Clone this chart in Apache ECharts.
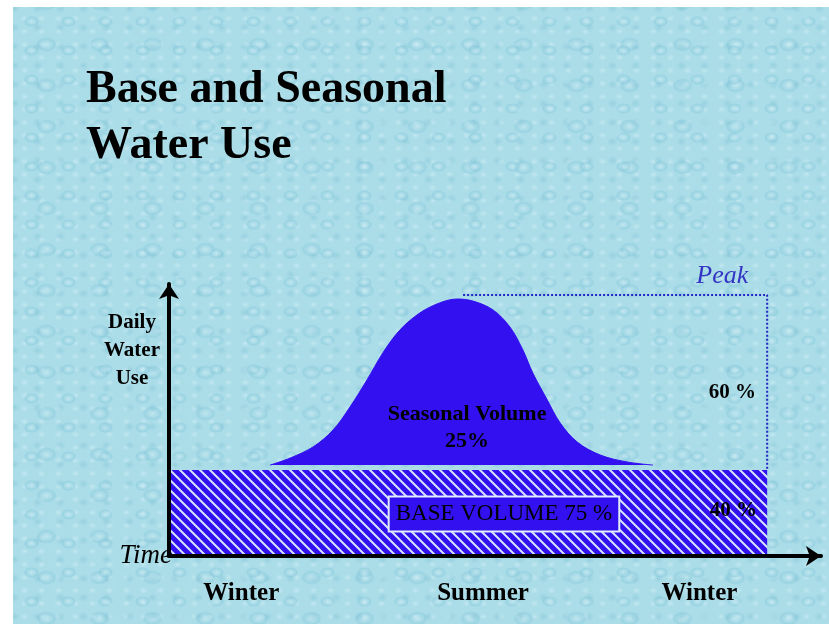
<!DOCTYPE html>
<html>
<head>
<meta charset="utf-8">
<script src="https://cdn.jsdelivr.net/npm/echarts@6/dist/echarts.min.js"></script>
<style>
  html, body { margin: 0; padding: 0; background: #fff; }
  #wrap { position: relative; width: 829px; height: 624px; overflow: hidden; }
  #bg {
    position: absolute; left: 13px; top: 7px; width: 816px; height: 617px;
    background:
      radial-gradient(ellipse 10px 7px at 50% 50%, rgba(235,250,255,0.35) 0%, rgba(120,192,214,0.35) 62%, rgba(0,0,0,0) 78%) 0 0 / 37px 29px,
      radial-gradient(ellipse 7px 6px at 50% 50%, rgba(110,182,206,0.3) 0%, rgba(0,0,0,0) 78%) 13px 11px / 23px 19px,
      radial-gradient(ellipse 14px 10px at 50% 50%, rgba(240,252,255,0.3) 0%, rgba(118,190,212,0.3) 58%, rgba(0,0,0,0) 74%) 7px 17px / 53px 41px,
      radial-gradient(ellipse 5px 4px at 50% 50%, rgba(225,246,252,0.4) 0%, rgba(0,0,0,0) 80%) 3px 5px / 17px 13px,
      #abdde8;
  }
  #main { position: absolute; left: 0; top: 0; width: 829px; height: 624px; }
</style>
</head>
<body>
<div id="wrap">
  <div id="bg"></div>
  <div id="main"></div>
</div>
<script>
// time in months, use as % of summer peak
var baseMonths = [0, 12];
var baseUse = [33.2, 33.2];

var bellMonths = [2.03, 2.43, 2.89, 3.29, 3.63, 3.97, 4.29, 4.63, 5.03, 5.43, 5.78,
  6.10, 6.50, 6.84, 7.10, 7.30, 7.59, 7.85, 8.19, 8.65, 9.19, 9.71];
var bellUse = [35.1, 37.8, 42.1, 48.6, 57.5, 67.9, 78.4, 87.2, 93.8, 97.7, 99.2,
  98.4, 95.0, 88.4, 79.5, 70.6, 60.2, 51.3, 44.0, 39.0, 36.3, 35.1];
var bellFloor = 35.1;

var peakMonths = [5.9, 12, 12];
var peakUse = [100.8, 100.8, 33.2];

var seasonTicks = [1.45, 6.3, 10.64];
var seasonNames = ['Winter', 'Summer', 'Winter'];

var noteTexts = ['Peak', '60 %', '40 %', 'Seasonal Volume\n25%', 'BASE VOLUME 75 %'];
var noteMonths = [11.1, 11.3, 11.32, 5.98, 6.72];
var noteUse = [108.1, 62.9, 17.4, 49.4, 16.2];

var blue = '#3210f0';
var serif = '"Liberation Serif", "Times New Roman", serif';

function hatch() {
  var s = 10;
  var c = document.createElement('canvas');
  c.width = s;
  c.height = s;
  var g = c.getContext('2d');
  g.fillStyle = blue;
  g.fillRect(0, 0, s, s);
  g.strokeStyle = '#d4e4ff';
  g.lineWidth = 2;
  g.beginPath();
  g.moveTo(-1, -1); g.lineTo(s + 1, s + 1);
  g.moveTo(-1, s - 1); g.lineTo(1, s + 1);
  g.moveTo(s - 1, -1); g.lineTo(s + 1, 1);
  g.stroke();
  return c;
}

function pairs(xs, ys) {
  return xs.map(function(x, i) { return [x, ys[i]]; });
}

var noteStyles = [
  { fontFamily: serif, fontStyle: 'italic', fontSize: 26, color: '#3434c4' },
  { fontFamily: serif, fontWeight: 'bold', fontSize: 21, color: '#000' },
  { fontFamily: serif, fontWeight: 'bold', fontSize: 21, color: '#000' },
  { fontFamily: serif, fontWeight: 'bold', fontSize: 22, lineHeight: 27, color: '#000', align: 'center' },
  { fontFamily: serif, fontSize: 23, lineHeight: 24, color: '#000',
    backgroundColor: blue, borderColor: '#e0ecff', borderWidth: 2, padding: [5, 6, 4, 6] }
];

var chart = echarts.init(document.getElementById('main'));

var option = {
  backgroundColor: 'transparent',
  animation: false,
  title: {
    text: 'Base and Seasonal\nWater Use',
    left: 86,
    top: 62,
    padding: 0,
    textStyle: { fontFamily: serif, fontSize: 46, fontWeight: 'bold', lineHeight: 56, color: '#000' }
  },
  grid: { left: 169, right: 8, top: 284, bottom: 68 },
  xAxis: {
    type: 'value',
    min: 0,
    max: 13.08,
    z: 5,
    name: 'Time',
    nameLocation: 'start',
    nameGap: -3,
    nameTextStyle: { fontFamily: serif, fontStyle: 'italic', fontSize: 27, color: '#000', padding: [4, 0, 0, 0] },
    axisLine: { lineStyle: { color: '#000', width: 4 }, symbol: ['none', 'arrow'], symbolSize: [15, 15] },
    axisTick: { show: false },
    splitLine: { show: false },
    axisLabel: {
      customValues: seasonTicks,
      margin: 25,
      fontFamily: serif,
      fontSize: 25,
      fontWeight: 'bold',
      color: '#000',
      formatter: function(v) {
        var best = 0;
        seasonTicks.forEach(function(t, i) {
          if (Math.abs(t - v) < Math.abs(seasonTicks[best] - v)) best = i;
        });
        return seasonNames[best];
      }
    }
  },
  yAxis: {
    type: 'value',
    min: 0,
    max: 105,
    z: 5,
    axisLine: { lineStyle: { color: '#000', width: 4 }, symbol: ['none', 'arrow'], symbolSize: [15, 15] },
    axisTick: { show: false },
    axisLabel: { show: false },
    splitLine: { show: false }
  },
  graphic: [
    {
      type: 'text',
      left: 132 - 35,
      top: 309,
      style: {
        text: 'Daily\nWater\nUse',
        x: 35,
        y: 0,
        width: 70,
        textAlign: 'center',
        fill: '#000',
        font: 'bold 21px ' + serif,
        lineHeight: 28
      }
    }
  ],
  series: [
    {
      type: 'line',
      silent: true,
      data: pairs(baseMonths, baseUse),
      symbol: 'none',
      lineStyle: { opacity: 0 },
      areaStyle: { color: { image: hatch(), repeat: 'repeat' }, opacity: 1 },
      z: 2
    },
    {
      type: 'line',
      silent: true,
      data: pairs(bellMonths, bellUse),
      smooth: 0.35,
      symbol: 'none',
      lineStyle: { color: blue, width: 1 },
      areaStyle: { color: blue, opacity: 1, origin: bellFloor },
      z: 3
    },
    {
      type: 'line',
      silent: true,
      data: pairs(peakMonths, peakUse),
      symbol: 'none',
      lineStyle: { color: '#2525c8', width: 2, type: 'dotted' },
      z: 3
    },
    {
      type: 'scatter',
      silent: true,
      clip: false,
      symbolSize: 0,
      itemStyle: { opacity: 1 },
      z: 6,
      data: noteTexts.map(function(t, i) {
        return {
          value: [noteMonths[i], noteUse[i]],
          label: Object.assign({ show: true, position: 'inside', formatter: t, opacity: 1 }, noteStyles[i])
        };
      })
    }
  ]
};

chart.setOption(option);
</script>
</body>
</html>
